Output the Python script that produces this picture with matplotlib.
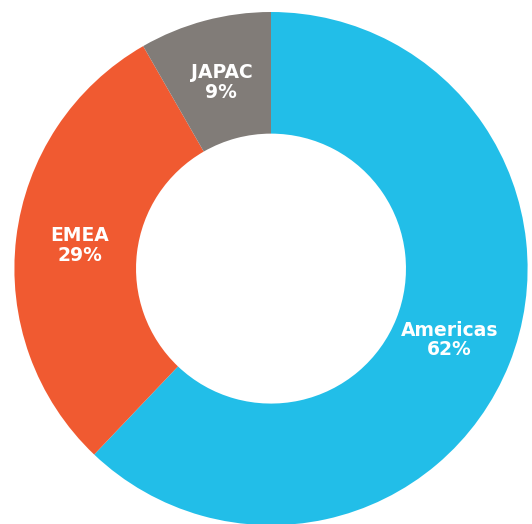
import matplotlib
matplotlib.use('Agg')
import matplotlib.pyplot as plt
import numpy as np

# data (slice sizes read from the ring, labels as printed)
regions = ['Americas', 'EMEA', 'JAPAC']
shares = [62.1, 29.6, 8.3]
pct_labels = ['62%', '29%', '9%']
colors = ['#22BEE8', '#F05A31', '#817C78']

# ring geometry in pixels
CX, CY, R = 271, 268.6, 256.6
W, H = 532, 524

fig = plt.figure(figsize=(W / 100, H / 100), dpi=100)
ax = fig.add_axes([0, 0, 1, 1])

wedges, _ = ax.pie(shares, colors=colors, startangle=90, counterclock=False,
                   radius=1.0, wedgeprops=dict(width=0.474, linewidth=0))

# labels inside the ring
for w, name, lab in zip(wedges, regions, pct_labels):
    mid = np.deg2rad((w.theta1 + w.theta2) / 2)
    r = 0.75
    ax.text(r * np.cos(mid), r * np.sin(mid), f"{name}\n{lab}",
            ha='center', va='center', color='white', fontsize=13.5,
            fontweight='bold', family='DejaVu Sans', linespacing=1.05)

ax.set_xlim(-CX / R, (W - CX) / R)
ax.set_ylim(-(H - CY) / R, CY / R)
ax.set_aspect('auto')
ax.axis('off')

fig.savefig('out.png', dpi=100)
